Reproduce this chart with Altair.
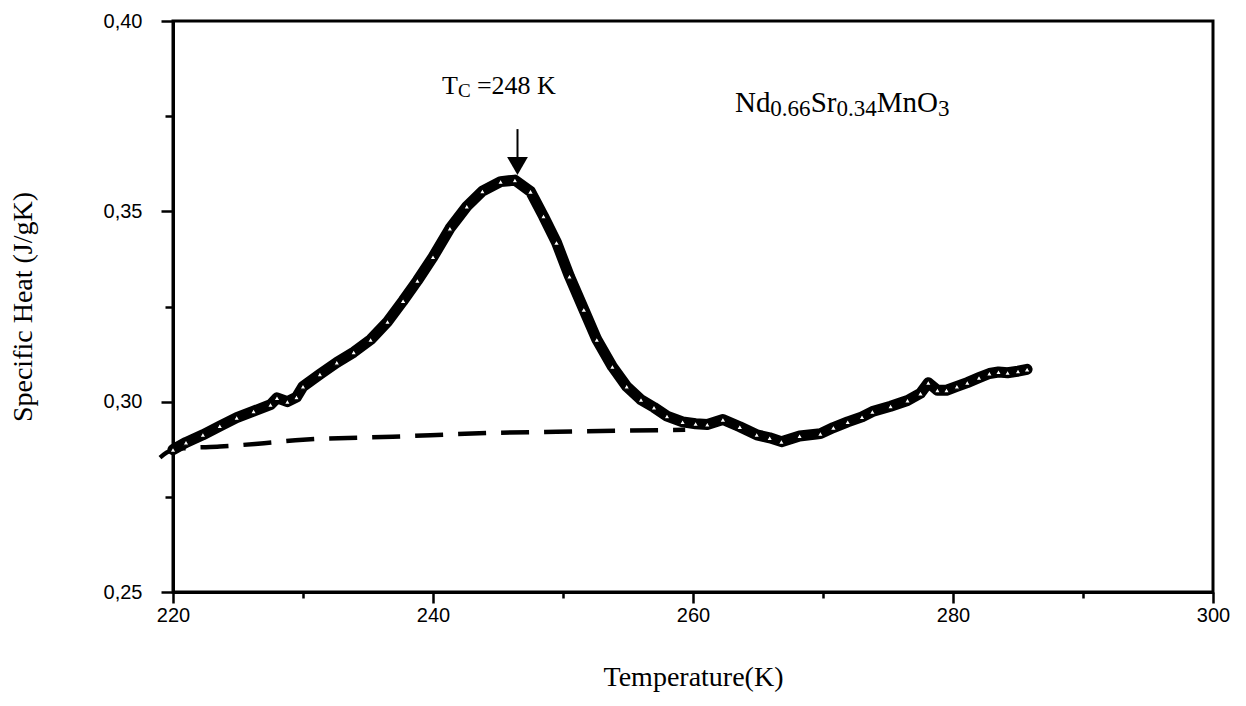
import altair as alt
import pandas as pd

# Measured specific heat data (T in K, Cp in J/gK)
T_data = [220.0, 221.0, 222.3, 223.6, 224.9, 226.2, 227.5, 228.0, 228.8, 229.5,
          230.0, 231.3, 232.6, 233.9, 235.2, 236.5, 237.7, 238.8, 240.0, 241.3,
          242.6, 243.8, 245.2, 246.3, 247.5, 248.5, 249.5, 250.5, 251.6, 252.6,
          253.8, 254.9, 256.0, 257.0, 258.0, 259.2, 260.2, 261.1, 262.3, 263.6,
          264.9, 265.9, 266.8, 268.2, 269.8, 270.8, 271.9, 273.0, 273.8, 275.2,
          276.5, 277.5, 278.1, 278.8, 279.5, 280.3, 281.1, 282.0, 282.8, 283.5,
          284.2, 285.0, 285.7]
CP_data = [0.2874, 0.2893, 0.2913, 0.2936, 0.2958, 0.2975, 0.2992, 0.3010, 0.3000, 0.3012,
           0.3040, 0.3072, 0.3103, 0.3130, 0.3163, 0.3210, 0.3265, 0.3318, 0.3380, 0.3455,
           0.3513, 0.3553, 0.3578, 0.3582, 0.3552, 0.3487, 0.3418, 0.3329, 0.3242, 0.3163,
           0.3092, 0.3040, 0.3005, 0.2985, 0.2962, 0.2947, 0.2942, 0.2940, 0.2953, 0.2934,
           0.2913, 0.2905, 0.2895, 0.2910, 0.2916, 0.2932, 0.2947, 0.2960, 0.2974, 0.2988,
           0.3003, 0.3022, 0.3050, 0.3030, 0.3030, 0.3040, 0.3050, 0.3063, 0.3074, 0.3078,
           0.3076, 0.3080, 0.3085]

# Lattice background (dashed)
T_base = [219.0, 219.5, 220.0, 221.0, 223.6, 227.0, 230.0, 236.9, 244.6, 249.5, 254.9, 259.4]
CP_base = [0.2853, 0.2866, 0.2874, 0.2878, 0.2882, 0.2891, 0.2900, 0.2908, 0.2918, 0.2921, 0.2924, 0.2926]

# Arrow marking T_C
arrow_T = [246.5]
arrow_top = [0.3716]
arrow_bottom = [0.3630]
arrow_head = [0.3619]

# Annotation text pieces (subscripts as separate pieces)
ann_text = ["T", "C", "=248 K", "Nd", "0.66", "Sr", "0.34", "MnO", "3"]
ann_T = [240.69, 241.92, 243.38, 263.23, 265.95, 269.05, 271.04, 274.14, 278.85]
ann_cp = [0.3808, 0.3800, 0.3808, 0.3761, 0.3750, 0.3761, 0.3750, 0.3761, 0.3750]
ann_fs = [26, 19, 26, 29, 23, 29, 23, 29, 23]

x_ticks = [220, 230, 240, 250, 260, 270, 280, 290, 300]
y_ticks = [0.25, 0.275, 0.30, 0.325, 0.35, 0.375, 0.40]

data_df = pd.DataFrame({"T": T_data, "Cp": CP_data})
base_df = pd.DataFrame({"T": T_base, "Cp": CP_base})
arrow_df = pd.DataFrame({"T": arrow_T, "Cp": arrow_top, "Cp2": arrow_bottom})
head_df = pd.DataFrame({"T": arrow_T, "Cp": arrow_head})
ann_df = pd.DataFrame({"T": ann_T, "Cp": ann_cp, "txt": ann_text, "fs": ann_fs})

x_scale = alt.Scale(domain=[220, 300], nice=False, zero=False)
y_scale = alt.Scale(domain=[0.25, 0.40], nice=False, zero=False)

x_axis = alt.Axis(
    values=x_ticks,
    format="d",
    labelExpr="datum.value % 20 === 0 ? datum.label : ''",
    tickSize={"condition": {"test": "datum.value % 20 === 0", "value": 11}, "value": 6},
    labelPadding=2,
    labelFlush=False,
    labelFont="Liberation Sans", labelFontSize=20, labelColor="black",
    domainColor="black", domainWidth=3, tickColor="black", tickWidth=2.5,
    grid=False,
    titleFont="Liberation Serif", titleFontSize=28, titleFontWeight="normal", titleColor="black",
    titleX=520, titleY=93, titleBaseline="alphabetic", titleAlign="center",
)
y_axis = alt.Axis(
    values=y_ticks,
    labelExpr="round(datum.value * 1000) % 50 === 0 ? replace(format(datum.value, '.2f'), '.', ',') : ''",
    tickSize={"condition": {"test": "round(datum.value * 1000) % 50 === 0", "value": 12}, "value": 8},
    labelPadding=19,
    labelFlush=False,
    labelFont="Liberation Sans", labelFontSize=20, labelColor="black",
    domainColor="black", domainWidth=3, tickColor="black", tickWidth=2.5,
    grid=False,
    titleFont="Liberation Serif", titleFontSize=28, titleFontWeight="normal", titleColor="black",
    titleX=-150, titleY=285.5, titleAngle=-90, titleBaseline="middle", titleAlign="center",
)

X = alt.X("T:Q", scale=x_scale, axis=x_axis, title="Temperature(K)")
Y = alt.Y("Cp:Q", scale=y_scale, axis=y_axis, title="Specific Heat (J/gK)")

band = alt.Chart(data_df).mark_line(color="black", strokeWidth=11, strokeJoin="round", strokeCap="round").encode(x=X, y=Y)
markers = alt.Chart(data_df).mark_point(
    shape="triangle-up", filled=True, fill="white", stroke="black", strokeWidth=1.3, size=40, opacity=1
).encode(x=X, y=Y)
baseline = alt.Chart(base_df).mark_line(
    color="black", strokeWidth=4.5, strokeDash=[28, 15], interpolate="monotone"
).encode(x=X, y=Y)
arrow = alt.Chart(arrow_df).mark_rule(color="black", strokeWidth=2).encode(x=X, y=Y, y2="Cp2:Q")
head = alt.Chart(head_df).mark_point(
    shape="triangle-down", filled=True, color="black", size=430, opacity=1
).encode(x=X, y=Y)
ann = alt.Chart(ann_df).mark_text(
    align="left", baseline="alphabetic", font="Liberation Serif", color="black"
).encode(x=X, y=Y, text="txt:N", size=alt.Size("fs:Q", scale=None, legend=None))

chart = alt.layer(baseline, band, markers, arrow, head, ann).properties(
    width=1040, height=571,
    autosize=alt.AutoSizeParams(type="none"),
    padding={"left": 165, "top": 13, "right": 20, "bottom": 101},
    background="white",
).configure_view(stroke="black", strokeWidth=3)

chart.save("out.html", embed_options={"renderer": "svg", "actions": False})
